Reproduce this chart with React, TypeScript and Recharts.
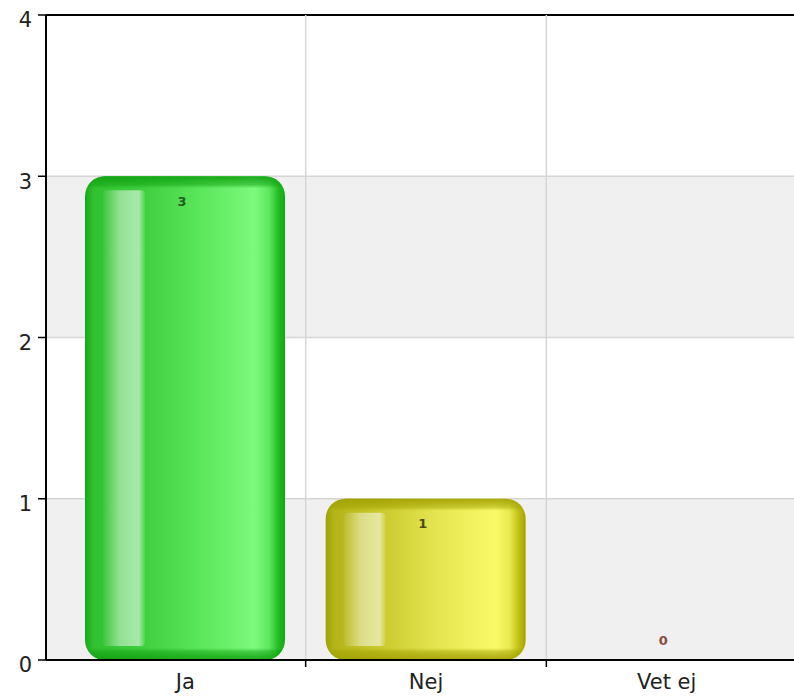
import React from 'react';
import {
  BarChart,
  Bar,
  XAxis,
  YAxis,
  CartesianGrid,
  ReferenceLine,
  LabelList,
} from 'recharts';

const categories = ['Ja', 'Nej', 'Vet ej'];
const answers = [3, 1, 0];
const yTicks = [0, 1, 2, 3, 4];

const barStops = [
  [
    ['0', '#16a816'],
    ['0.04', '#30c030'],
    ['0.3', '#3fd03f'],
    ['0.55', '#58e458'],
    ['0.85', '#7cfa7c'],
    ['0.92', '#5ee85e'],
    ['0.97', '#20b820'],
    ['1', '#12a812'],
  ],
  [
    ['0', '#a0a008'],
    ['0.04', '#b4b418'],
    ['0.3', '#cccc30'],
    ['0.55', '#e4e450'],
    ['0.85', '#fafa68'],
    ['0.92', '#e8e850'],
    ['0.97', '#bcbc10'],
    ['1', '#a4a400'],
  ],
  [
    ['0', '#a04030'],
    ['0.5', '#d06050'],
    ['1', '#a04030'],
  ],
];
const rimColors = ['#10a010', '#a0a000', '#903020'];
const labelColors = ['#245a24', '#4a4a10', '#8b4a3a'];

const data = categories.map((name, i) => ({ name, value: answers[i] }));

const FONT = '"DejaVu Sans", Verdana, sans-serif';
const PLOT_TOP = 15;
const X_PAD = { left: 19, right: 7 };
const TICK_SIZE = 7;
const TICK_MARGIN = 9;

const GlossyBar = (props: any) => {
  const { x, y, width, height, index } = props;
  if (!height || height <= 0) return null;
  const i = index ?? 0;
  const id = `bar-${i}`;
  const r = Math.min(20, width / 2, height / 2);
  const fade = Math.min(0.5, 12 / height);
  const inset = Math.min(14, height * 0.3);
  return (
    <g>
      <defs>
        <linearGradient id={`${id}-h`} x1="0" y1="0" x2="1" y2="0">
          {barStops[i].map(([o, c]) => (
            <stop key={o} offset={o} stopColor={c} />
          ))}
        </linearGradient>
        <linearGradient id={`${id}-hl`} x1="0" y1="0" x2="1" y2="0">
          <stop offset="0" stopColor="#ffffff" stopOpacity={0.05} />
          <stop offset="0.4" stopColor="#ffffff" stopOpacity={0.45} />
          <stop offset="0.85" stopColor="#ffffff" stopOpacity={0.55} />
          <stop offset="1" stopColor="#ffffff" stopOpacity={0.1} />
        </linearGradient>
        <linearGradient
          id={`${id}-v`}
          gradientUnits="userSpaceOnUse"
          x1={x}
          y1={y}
          x2={x}
          y2={y + height}
        >
          <stop offset="0" stopColor={rimColors[i]} stopOpacity={0.9} />
          <stop offset={fade * 0.7} stopColor={rimColors[i]} stopOpacity={0.5} />
          <stop offset={fade} stopColor={rimColors[i]} stopOpacity={0} />
          <stop offset={1 - fade} stopColor={rimColors[i]} stopOpacity={0} />
          <stop offset={1 - fade * 0.7} stopColor={rimColors[i]} stopOpacity={0.5} />
          <stop offset="1" stopColor={rimColors[i]} stopOpacity={0.9} />
        </linearGradient>
      </defs>
      <rect x={x} y={y} width={width} height={height} rx={r} ry={r} fill={`url(#${id}-h)`} />
      <rect
        x={x + width * 0.09}
        y={y + inset}
        width={width * 0.21}
        height={height - 2 * inset}
        rx={4}
        fill={`url(#${id}-hl)`}
      />
      <rect x={x} y={y} width={width} height={height} rx={r} ry={r} fill={`url(#${id}-v)`} />
    </g>
  );
};

const ValueLabel = (props: any) => {
  const { x, y, width, value, index } = props;
  const i = index ?? answers.indexOf(value);
  const cy = value > 0 ? y + 25 : y - 20;
  return (
    <text
      x={x + width / 2 - 3}
      y={cy}
      textAnchor="middle"
      dominantBaseline="central"
      fontFamily={FONT}
      fontWeight="bold"
      fontSize={13}
      fill={labelColors[i] || '#333'}
    >
      {value}
    </text>
  );
};

const CategoryTick = (props: any) => {
  const { x, y, payload, index } = props;
  let half = typeof payload?.offset === 'number' ? payload.offset : 0;
  if (!half && typeof props.width === 'number') {
    half = (props.width - X_PAD.left - X_PAD.right) / categories.length / 2;
  }
  const axisY = y - TICK_MARGIN;
  const bx = x - half;
  return (
    <g>
      {index > 0 && half > 0 ? (
        <g>
          <line x1={bx} x2={bx} y1={PLOT_TOP} y2={axisY - 1} stroke="#d6d6d6" strokeWidth={1.5} />
          <line x1={bx} x2={bx} y1={axisY} y2={axisY + TICK_SIZE} stroke="#000" strokeWidth={1.5} />
        </g>
      ) : null}
      <text
        x={x}
        y={y + 5}
        dy="0.71em"
        textAnchor="middle"
        fontFamily={FONT}
        fontSize={21}
        fill="#222"
      >
        {payload.value}
      </text>
    </g>
  );
};

export default function App() {
  return (
    <div
      style={{
        position: 'fixed',
        left: 0,
        top: 0,
        width: 794,
        height: 699,
        overflow: 'hidden',
        background: '#ffffff',
      }}
    >
      <BarChart
        width={794}
        height={699}
        data={data}
        margin={{ top: PLOT_TOP, right: 0, bottom: 0, left: 0 }}
        barSize={200}
      >
        <CartesianGrid
          stroke="#d6d6d6"
          strokeWidth={1.5}
          vertical={false}
          horizontalFill={['#ffffff', '#f0f0f0']}
          fillOpacity={1}
        />
        <XAxis
          dataKey="name"
          type="category"
          height={39}
          padding={X_PAD}
          axisLine={{ stroke: '#000', strokeWidth: 2 }}
          tickLine={false}
          tickSize={0}
          tickMargin={TICK_MARGIN}
          tick={<CategoryTick />}
          interval={0}
        />
        <YAxis
          width={46}
          domain={[0, 4]}
          ticks={yTicks}
          interval={0}
          axisLine={{ stroke: '#000', strokeWidth: 2 }}
          tickLine={{ stroke: '#000', strokeWidth: 1.5 }}
          tickSize={8}
          tickMargin={6}
          tick={{ fontSize: 21, fontFamily: FONT, fill: '#222', dy: 5 }}
        />
        <ReferenceLine y={4} stroke="#000" strokeWidth={2} />
        <Bar dataKey="value" isAnimationActive={false} shape={<GlossyBar />}>
          <LabelList dataKey="value" content={<ValueLabel />} />
        </Bar>
      </BarChart>
    </div>
  );
}
